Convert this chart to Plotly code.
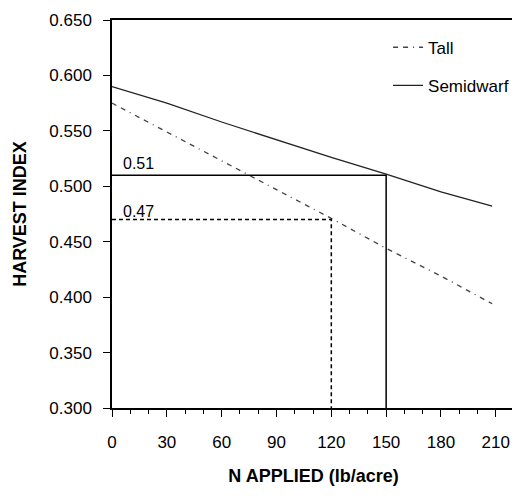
import plotly.graph_objects as go

# Data
n_applied = [0, 30, 60, 90, 120, 150, 180, 208]
tall = [0.575, 0.549, 0.523, 0.497, 0.471, 0.444, 0.419, 0.394]
semidwarf = [0.590, 0.575, 0.558, 0.542, 0.526, 0.511, 0.495, 0.482]

# Reference (optimum) points
tall_opt_x = 120
tall_opt_y = 0.47
semi_opt_x = 150
semi_opt_y = 0.51

y_floor = 0.300
x_ticks = [0, 30, 60, 90, 120, 150, 180, 210]
y_ticks = [0.300, 0.350, 0.400, 0.450, 0.500, 0.550, 0.600, 0.650]

FONT = "Liberation Sans, Arial, sans-serif"

fig = go.Figure()

fig.add_trace(go.Scatter(
    x=n_applied, y=tall, mode="lines", name="Tall",
    legendgroup="a",
    line=dict(color="#444444", width=1.3, dash="5px,5px,5px,5px,1px,5px"),
))
fig.add_trace(go.Scatter(
    x=n_applied, y=semidwarf, mode="lines", name="Semidwarf",
    legendgroup="b",
    line=dict(color="#222222", width=1.3),
))

# Reference lines for the optima
fig.add_trace(go.Scatter(
    x=[0, semi_opt_x, semi_opt_x], y=[semi_opt_y, semi_opt_y, y_floor],
    mode="lines", showlegend=False, hoverinfo="skip",
    line=dict(color="black", width=1.5),
))
fig.add_trace(go.Scatter(
    x=[0, tall_opt_x, tall_opt_x], y=[tall_opt_y, tall_opt_y, y_floor],
    mode="lines", showlegend=False, hoverinfo="skip",
    line=dict(color="black", width=1.5, dash="4px,3px"),
))

fig.add_annotation(x=5, y=semi_opt_y, text=f"{semi_opt_y:.2f}", showarrow=False,
                   xanchor="left", yanchor="bottom", yshift=1,
                   font=dict(family=FONT, size=16, color="black"))
fig.add_annotation(x=5, y=tall_opt_y, text=f"{tall_opt_y:.2f}", showarrow=False,
                   xanchor="left", yanchor="bottom", yshift=-2,
                   font=dict(family=FONT, size=16, color="black"))

# the page adds an 8px body margin, so the figure is 8px smaller
fig.update_layout(
    width=512, height=489,
    margin=dict(l=104, r=3, t=10, b=89),
    paper_bgcolor="white", plot_bgcolor="white",
    font=dict(family=FONT, size=16, color="black"),
    showlegend=True,
    legend=dict(
        x=0.685, y=0.975, xanchor="left", yanchor="top",
        bgcolor="rgba(0,0,0,0)", borderwidth=0,
        font=dict(family=FONT, size=17, color="black"),
        tracegroupgap=13,
    ),
)

fig.update_xaxes(
    range=[0, 220.5], tickmode="array", tickvals=x_ticks,
    ticktext=[str(v) for v in x_ticks],
    ticks="outside", ticklen=7, tickwidth=1.3, tickcolor="black",
    minor=dict(tickmode="linear", dtick=10, tick0=0, ticks="outside", ticklen=4,
               tickwidth=1.3, tickcolor="black", showgrid=False),
    showline=True, linecolor="black", linewidth=1.5, mirror=True,
    showgrid=False, zeroline=False,
    ticklabelstandoff=11,
    tickfont=dict(family=FONT, size=17),
    title=dict(text="<b>N APPLIED (lb/acre)</b>", standoff=18,
               font=dict(family=FONT, size=18)),
)
fig.update_yaxes(
    range=[0.300, 0.650], tickmode="array", tickvals=y_ticks,
    ticktext=[f"{v:.3f}" for v in y_ticks],
    ticks="outside", ticklen=7, tickwidth=1.3, tickcolor="black",
    showline=True, linecolor="black", linewidth=1.5, mirror=True,
    showgrid=False, zeroline=False,
    ticklabelstandoff=8,
    tickfont=dict(family=FONT, size=17),
    title=dict(text="<b>HARVEST INDEX</b>", standoff=18,
               font=dict(family=FONT, size=18)),
)

fig.write_html("out.html")
